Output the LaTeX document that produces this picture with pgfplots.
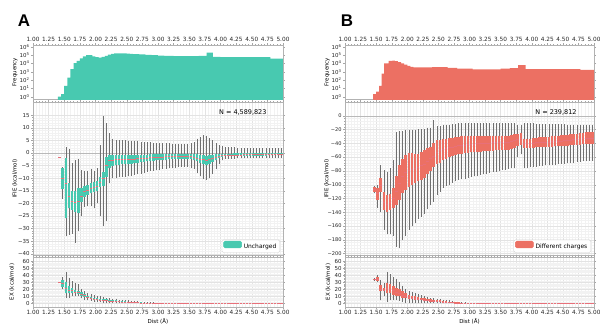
\documentclass[border=0pt]{standalone}
\usepackage{fontspec}
\setmainfont{DejaVu Sans}
\newfontfamily\lettersfont{Liberation Sans}
\usepackage{pgfplots}
\usepackage{pgfplotstable}
\pgfplotsset{compat=1.18}
\definecolor{tealc}{HTML}{48C9B0}
\definecolor{redc}{HTML}{EC7063}
\definecolor{medc}{HTML}{E8707A}
\definecolor{whc}{HTML}{707070}

\pgfplotstableread{
x lw q1 med q3 uw
1.425 -1.5 -1.5 -1.5 -1.5 -1.5
1.475 -18.3 -14.4 -10 -6 -5.5
1.525 -33 -26 -12 -2.1 2.5
1.575 -32.5 -22 -17 -12 1.5
1.625 -32 -22.5 -19 -15.3 -4
1.675 -35.6 -23.5 -19.5 -15 -3
1.725 -31 -24 -19 -14 -2.6
1.775 -25 -19.3 -17 -14 -6.7
1.825 -21.5 -17.4 -15.2 -13 -7
1.875 -21 -16.6 -14.6 -12.6 -7
1.925 -21 -16 -14 -12 -6.5
1.975 -22 -15.5 -13.5 -11.4 -7
2.025 -20 -15 -13 -11 -6
2.075 -25 -13.5 -11.5 -9.4 3
2.125 -29 -13 -10 -7.5 14.6
2.175 -27 -9.5 -5 -1.5 12
2.225 -12 -6 -3 -1 8
2.275 -10 -5 -2.7 -1 5.5
2.325 -9.8 -4.6 -2.6 -1 5.2
2.375 -9.7 -4.6 -2.6 -1 5.1
2.425 -9.6 -4.5 -2.5 -1 5.0
2.475 -9.5 -4.5 -2.5 -1 5.0
2.525 -9.3 -4.4 -2.4 -0.9 4.9
2.575 -9.1 -4.3 -2.4 -0.9 4.8
2.625 -8.8 -4.1 -2.3 -0.9 4.7
2.675 -8.5 -4.0 -2.2 -0.8 4.6
2.725 -8.2 -3.8 -2.1 -0.8 4.5
2.775 -7.8 -3.6 -2.0 -0.7 4.4
2.825 -7.5 -3.4 -1.9 -0.7 4.3
2.875 -7.2 -3.2 -1.8 -0.6 4.2
2.925 -7.0 -3.1 -1.7 -0.6 4.1
2.975 -6.8 -3.0 -1.6 -0.5 4.0
3.025 -6.6 -2.9 -1.5 -0.5 3.9
3.075 -6.4 -2.8 -1.5 -0.4 3.9
3.125 -6.2 -2.7 -1.4 -0.4 3.8
3.175 -6.0 -2.6 -1.4 -0.3 3.8
3.225 -5.9 -2.6 -1.3 -0.3 3.7
3.275 -5.8 -2.5 -1.3 -0.3 3.7
3.325 -5.6 -2.5 -1.3 -0.3 3.6
3.375 -5.5 -2.4 -1.3 -0.3 3.6
3.425 -5.4 -2.4 -1.3 -0.3 3.6
3.475 -5.5 -2.5 -1.3 -0.4 3.7
3.525 -5.8 -2.6 -1.4 -0.4 3.9
3.575 -6.5 -2.9 -1.6 -0.5 4.5
3.625 -7.8 -3.4 -1.9 -0.6 5.5
3.675 -9.3 -4.0 -2.3 -0.8 6.5
3.725 -10.5 -4.5 -2.6 -1.0 7.0
3.775 -10.8 -4.8 -2.8 -1.1 6.8
3.825 -10 -4.3 -2.5 -1.0 6.0
3.875 -8.5 -3.6 -2.1 -0.8 5.0
3.925 -6.5 -2.8 -1.6 -0.6 4.0
3.975 -4.5 -2.0 -1.2 -0.4 3.2
4.025 -3.0 -1.5 -0.9 -0.3 2.6
4.075 -2.5 -1.3 -0.8 -0.3 2.3
4.125 -2.4 -1.25 -0.75 -0.25 2.3
4.175 -2.3 -1.2 -0.7 -0.25 2.2
4.225 -2.3 -1.2 -0.7 -0.2 2.2
4.275 -2.2 -1.2 -0.7 -0.2 2.1
4.325 -2.2 -1.15 -0.7 -0.2 2.1
4.375 -2.2 -1.15 -0.65 -0.2 2.1
4.425 -2.2 -1.1 -0.65 -0.2 2.0
4.475 -2.1 -1.1 -0.65 -0.2 2.0
4.525 -2.1 -1.1 -0.6 -0.2 2.0
4.575 -2.1 -1.1 -0.6 -0.2 2.0
4.625 -2.1 -1.05 -0.6 -0.15 2.0
4.675 -2.0 -1.05 -0.6 -0.15 1.9
4.725 -2.0 -1.05 -0.6 -0.15 1.9
4.775 -2.0 -1.0 -0.6 -0.15 1.9
4.825 -2.0 -1.0 -0.55 -0.15 1.9
4.875 -2.0 -1.0 -0.55 -0.15 1.9
4.925 -2.0 -1.0 -0.55 -0.1 1.9
4.975 -2.0 -1.0 -0.55 -0.1 1.9
}\Aifie

\pgfplotstableread{
x lw q1 med q3 uw
1.425 30 30 30 30 30
1.475 20 23 28 33 38
1.525 7.5 14 22 31 45
1.575 8 14 19 24 36
1.625 10 15 18 22 31.6
1.675 10 14 16.5 19 29
1.725 10 13 15.5 18 27
1.775 7 11 13.5 16 21
1.825 5 9 11 13 18
1.875 4 7.5 9 11 15
1.925 3 6.5 7.5 9 13
1.975 2.5 5.5 6.5 8 11.5
2.025 2 5 6 7.5 11
2.075 1.5 4.2 5 6.5 10
2.125 1 3.5 4.5 6 9
2.175 0.8 3 4 5.5 8
2.225 0.5 2.5 3.5 5 7
2.275 0.2 2.2 3 4.5 6.5
2.325 0 2 2.8 4 6
2.375 0 1.7 2.4 3.4 5.3
2.425 0 1.5 2.1 3 5
2.475 0 1.2 1.8 2.6 4.3
2.525 0 1 1.6 2.4 4
2.575 0 0.9 1.4 2.1 3.5
2.625 0 0.7 1.2 1.9 3
2.675 0 0.6 1 1.6 2.7
2.725 0 0.5 0.8 1.4 2.4
2.775 0 0.4 0.6 1.1 2
2.825 0 0.3 0.5 0.9 1.8
2.875 0 0.2 0.4 0.7 1.5
2.925 0 0.15 0.3 0.6 1.2
2.975 0 0.1 0.2 0.4 1
3.025 0 0.05 0.1 0.3 0.7
3.075 0 0 0.1 0.2 0.5
3.125 0 0 0.05 0.1 0.3
3.175 0 0 0 0.05 0.2
3.225 0 0 0 0 0.1
3.275 0 0 0 0 0.1
3.325 0 0 0 0 0.1
3.375 0 0 0 0 0.1
3.425 0 0 0 0 0.1
3.475 0 0 0 0 0.1
3.525 0 0 0 0 0.1
3.575 0 0 0 0 0.1
3.625 0 0 0 0 0.1
3.675 0 0 0 0 0.1
3.725 0 0 0 0 0.1
3.775 0 0 0 0 0.1
3.825 0 0 0 0 0.1
3.875 0 0 0 0 0.1
3.925 0 0 0 0 0.1
3.975 0 0 0 0 0.1
4.025 0 0 0 0 0.1
4.075 0 0 0 0 0.1
4.125 0 0 0 0 0.1
4.175 0 0 0 0 0.1
4.225 0 0 0 0 0.1
4.275 0 0 0 0 0.1
4.325 0 0 0 0 0.1
4.375 0 0 0 0 0.1
4.425 0 0 0 0 0.1
4.475 0 0 0 0 0.1
4.525 0 0 0 0 0.1
4.575 0 0 0 0 0.1
4.625 0 0 0 0 0.1
4.675 0 0 0 0 0.1
4.725 0 0 0 0 0.1
4.775 0 0 0 0 0.1
4.825 0 0 0 0 0.1
4.875 0 0 0 0 0.1
4.925 0 0 0 0 0.1
4.975 0 0 0 0 0.1
}\Aex

\pgfplotstableread{
x lw q1 med q3 uw
1.475 -112 -110 -107 -104 -102
1.525 -134 -122 -113 -105 -100
1.575 -139 -110 -100 -90 -71
1.625 -166 -137 -125 -110 -79
1.675 -172 -139 -128 -115 -81
1.725 -172 -137 -126 -113 -76
1.775 -174 -134 -120 -105 -64
1.825 -190 -129 -110 -88 -23
1.875 -192 -122 -98 -71 -22
1.925 -180 -112 -88 -62 -22
1.975 -175 -108 -82 -57 -21
2.025 -166 -103 -79 -54.5 -21
2.075 -160 -100 -77 -54.5 -20
2.125 -155 -98 -76 -55 -20
2.175 -150 -95 -75 -55 -19
2.225 -147 -93 -72 -52 -19
2.275 -142 -90 -70 -50 -19
2.325 -135 -85 -66 -47 -18
2.375 -130 -80 -62 -45 -17
2.425 -125 -75 -58 -40 -6
2.475 -115 -70 -53 -35 -15
2.525 -110 -68 -50 -35 -15
2.575 -105 -64 -48 -34 -14
2.625 -102 -62 -47 -33 -13
2.675 -100 -60 -46 -32.5 -13
2.725 -97 -58 -45 -32 -12
2.775 -95 -57 -44 -31 -12
2.825 -93 -56 -43 -30.5 -11
2.875 -92 -55 -42 -30 -11
2.925 -91 -54.5 -42 -30 -11
2.975 -90 -54 -41 -30 -11
3.025 -89 -53 -41 -30 -11
3.075 -88 -53 -40.5 -30 -11
3.125 -87 -52 -40 -30 -11
3.175 -86 -52 -40 -30 -11
3.225 -85 -51.5 -40 -30 -11
3.275 -84 -51 -40 -30 -11
3.325 -83 -51 -39.5 -30 -11
3.375 -82 -50.5 -39 -29.5 -11
3.425 -81 -50 -39 -29.5 -11
3.475 -80 -50 -39 -29.5 -11
3.525 -79 -50 -39 -29.5 -11
3.575 -78 -49.7 -39 -29.4 -11
3.625 -77 -49 -38 -29 -11
3.675 -76 -48 -37 -28 -11
3.725 -76 -47 -36 -27 -11
3.775 -60 -44 -34 -26 -13
3.825 -55 -42.5 -33 -25.5 -14
3.875 -76 -47 -40 -33 -11
3.925 -76 -47 -40 -33 -11
3.975 -75 -47 -40 -33 -11
4.025 -75 -46.5 -39.5 -32 -11
4.075 -74 -46 -39 -32 -11.5
4.125 -73 -46 -39 -31.5 -11.5
4.175 -73 -45.5 -38.5 -31 -12
4.225 -72 -45.5 -38 -31 -12
4.275 -72 -45 -38 -30.5 -12
4.325 -71 -45 -37.5 -30 -12
4.375 -71 -44.5 -37 -29.5 -12
4.425 -70 -44.5 -37 -29 -12.5
4.475 -70 -44 -36.5 -28.5 -12.5
4.525 -70 -44 -36 -28 -12.5
4.575 -69 -43.5 -35.5 -27.5 -13
4.625 -68 -43 -35 -27 -13
4.675 -68 -42.5 -34.5 -26.5 -13
4.725 -67 -42 -34 -26 -13
4.775 -67 -42 -33.5 -25 -13
4.825 -66 -41.5 -33 -24.5 -13
4.875 -66 -41 -32.5 -24 -13
4.925 -65 -40.5 -32 -23.5 -13
4.975 -65 -40.5 -32 -23.5 -13
}\Bifie

\pgfplotstableread{
x lw q1 med q3 uw
1.475 32 33 34 35 36
1.525 30 32 35 37 41
1.575 4 17 20 26 33
1.625 10 17 19 22 29
1.675 2 14 22 29 44
1.725 5 14 20 27 42
1.775 5 12 18 25 38
1.825 5 11 16 22 34
1.875 3 10 14 20 30
1.925 2 8 12 17 25
1.975 1 7 10 14 20
2.025 1 6 8.5 12 17
2.075 0.5 5.5 7.5 11 15.5
2.125 0.5 5 7 10 14
2.175 0 4.5 6 9 13
2.225 0 4 5.5 8 12
2.275 0 3.5 5 7 10
2.325 0 3 4.5 6 9
2.375 0 2.5 4 5.5 8
2.425 0 2 3.5 5 7
2.475 0 1.7 3 4.5 6.5
2.525 0 1.5 2.5 4 6
2.575 0 1.2 2 3.5 5
2.625 0 1 1.7 3 4.5
2.675 0 0.8 1.4 2.5 4
2.725 0 0.5 1 2 3
2.775 0 0.4 0.8 1.6 2.5
2.825 0 0.3 0.6 1.2 2
2.875 0 0.2 0.4 0.9 1.6
2.925 0 0.1 0.3 0.7 1.2
2.975 0 0.05 0.2 0.4 1
3.025 0 0 0.1 0.3 0.7
3.075 0 0 0.1 0.2 0.5
3.125 0 0 0 0.1 0.3
3.175 0 0 0 0 0.1
3.225 0 0 0 0 0.1
3.275 0 0 0 0 0.1
3.325 0 0 0 0 0.1
3.375 0 0 0 0 0.1
3.425 0 0 0 0 0.1
3.475 0 0 0 0 0.1
3.525 0 0 0 0 0.1
3.575 0 0 0 0 0.1
3.625 0 0 0 0 0.1
3.675 0 0 0 0 0.1
3.725 0 0 0 0 0.1
3.775 0 0 0 0 0.1
3.825 0 0 0 0 0.1
3.875 0 0 0 0 0.1
3.925 0 0 0 0 0.1
3.975 0 0 0 0 0.1
4.025 0 0 0 0 0.1
4.075 0 0 0 0 0.1
4.125 0 0 0 0 0.1
4.175 0 0 0 0 0.1
4.225 0 0 0 0 0.1
4.275 0 0 0 0 0.1
4.325 0 0 0 0 0.1
4.375 0 0 0 0 0.1
4.425 0 0 0 0 0.1
4.475 0 0 0 0 0.1
4.525 0 0 0 0 0.1
4.575 0 0 0 0 0.1
4.625 0 0 0 0 0.1
4.675 0 0 0 0 0.1
4.725 0 0 0 0 0.1
4.775 0 0 0 0 0.1
4.825 0 0 0 0 0.1
4.875 0 0 0 0 0.1
4.925 0 0 0 0 0.1
4.975 0 0 0 0 0.1
}\Bex

\pgfplotsset{
  common/.style={
    scale only axis, anchor=north west, xmin=1, xmax=5,
    tick label style={font=\fontsize{5.5}{6}\selectfont, text=black!85},
    xticklabel style={font=\fontsize{5.8}{6}\selectfont},
    label style={font=\fontsize{5.5}{6}\selectfont},
    tick align=outside, major tick length=2bp, minor tick length=1bp,
    axis line style={gray!60, line width=0.4bp},
    tick style={gray!70, line width=0.3bp},
    xtick={1,1.25,1.5,1.75,2,2.25,2.5,2.75,3,3.25,3.5,3.75,4,4.25,4.5,4.75,5},
    minor x tick num=4,
    xticklabel style={/pgf/number format/fixed, /pgf/number format/fixed zerofill, /pgf/number format/precision=2, /pgf/number format/assume math mode=true, inner ysep=1.5bp},
    yticklabel style={/pgf/number format/assume math mode=true, inner xsep=1.2bp},
  },
  histax/.style={common, height=54bp, ymin=0.53, ymax=1.6e6,
    ytick={1,10,100,1000,10000,100000,1000000},
    yticklabels={10\textsuperscript{0},10\textsuperscript{1},10\textsuperscript{2},10\textsuperscript{3},10\textsuperscript{4},10\textsuperscript{5},10\textsuperscript{6}},
    yminorticks=false, xticklabel pos=upper, ylabel={Frequency},
    ylabel style={at={(axis description cs:-0.072,0.5)}, anchor=center}},
  boxax/.style={common, grid=both, major grid style={gray!22, line width=0.3bp},
    minor grid style={gray!10, line width=0.2bp}, minor y tick num=4},
  exax/.style={boxax, height=50bp, ymin=-5.3, ymax=66, ytick={0,10,20,30,40,50,60},
    ylabel={EX (kcal/mol)}, xlabel={Dist (Å)},
    xlabel style={at={(axis description cs:0.5,-0.215)}, anchor=north, inner sep=0pt}},
  whisk/.style={forget plot, draw=none, mark=none, error bars/y dir=plus, error bars/y explicit,
    error bars/error mark=none, error bars/error bar style={draw=whc, line width=0.6bp}},
  boxs/.style={forget plot, draw=none, mark=none, error bars/y dir=plus, error bars/y explicit,
    error bars/error mark=none, error bars/error bar style={draw=#1, line width=2.6bp, line cap=butt}},
  meds/.style={forget plot, only marks, mark=-, mark size=1.3bp, mark options={draw=medc, line width=0.35bp}},
}

\begin{document}
\begin{tikzpicture}
\useasboundingbox (0,0) rectangle (600bp,-325bp);
\node[font=\lettersfont\bfseries\fontsize{17}{17}\selectfont] at (24bp,-21bp) {A};
\node[font=\lettersfont\bfseries\fontsize{17}{17}\selectfont] at (347bp,-21bp) {B};

% ---------------- Panel A ----------------
\begin{semilogyaxis}[histax, at={(33bp,-45bp)}, width=250bp]
\addplot[fill=tealc, draw=none, const plot mark left] coordinates {
(1.40,0.4) (1.40,1) (1.45,2) (1.50,20) (1.55,200) (1.60,2000) (1.65,1.1e4) (1.70,2e4)
(1.75,4e4) (1.80,7e4) (1.85,1e5) (1.90,9.5e4) (1.95,7e4) (2.00,5.5e4) (2.05,5e4)
(2.10,6e4) (2.15,8e4) (2.20,1.1e5) (2.25,1.4e5) (2.30,1.55e5) (2.35,1.6e5) (2.40,1.6e5)
(2.45,1.55e5) (2.50,1.5e5) (2.55,1.4e5) (2.60,1.3e5) (2.70,1.2e5) (2.80,1.05e5)
(2.90,9.5e4) (3.00,8.5e4) (3.10,8e4) (3.25,7.5e4) (3.40,7.5e4) (3.55,7.5e4) (3.65,8e4)
(3.78,1.9e5) (3.88,6e4) (4.00,5.5e4) (4.20,5.5e4) (4.40,5.5e4) (4.60,5.5e4) (4.80,3.6e4)
(5.00,3.6e4) (5.00,0.4)};
\end{semilogyaxis}

\begin{axis}[boxax, at={(33bp,-102bp)}, width=250bp, height=153bp,
  ymin=-40.5, ymax=20.2, xticklabels={},
  ytick={-40,-35,-30,-25,-20,-15,-10,-5,0,5,10,15},
  yticklabels={−40,−35,−30,−25,−20,−15,−10,−5,0,5,10,15},
  ylabel={IFIE (kcal/mol)}, ylabel style={at={(axis description cs:-0.072,0.5)}, anchor=center},
  legend style={at={(0.988,0.015)}, anchor=south east, draw=gray!35, rounded corners=1.5pt,
    font=\fontsize{6}{7}\selectfont, inner xsep=1.5pt, inner ysep=1pt}]
\addlegendimage{legend image code/.code={\fill[tealc] (0,-0.15em) rectangle (1.8em,0.55em);}}
\addlegendentry{Uncharged}
\addplot[forget plot, gray!55, line width=0.5bp] coordinates {(1,0) (5,0)};
\addplot[whisk] table[x=x, y=lw, y error plus expr=\thisrow{uw}-\thisrow{lw}] {\Aifie};
\addplot[boxs=tealc] table[x=x, y=q1, y error plus expr=\thisrow{q3}-\thisrow{q1}] {\Aifie};
\addplot[meds] table[x=x, y=med] {\Aifie};
\node[anchor=east, font=\fontsize{6.5}{7}\selectfont] at (rel axis cs:0.948,0.931) {N = 4,589,823};
\end{axis}

\begin{axis}[exax, at={(33bp,-257bp)}, width=250bp,
  ylabel style={at={(axis description cs:-0.084,0.5)}, anchor=center}]
\addplot[whisk] table[x=x, y=lw, y error plus expr=\thisrow{uw}-\thisrow{lw}] {\Aex};
\addplot[boxs=tealc] table[x=x, y=q1, y error plus expr=\thisrow{q3}-\thisrow{q1}] {\Aex};
\addplot[meds] table[x=x, y=med] {\Aex};
\end{axis}

% ---------------- Panel B ----------------
\begin{semilogyaxis}[histax, at={(345bp,-45bp)}, width=249bp]
\addplot[fill=redc, draw=none, const plot mark left] coordinates {
(1.45,0.4) (1.45,2) (1.50,4) (1.55,20) (1.59,600) (1.63,1e4) (1.70,2e4) (1.76,2.1e4)
(1.80,1.8e4) (1.85,1.4e4) (1.90,1e4) (1.95,7000) (2.00,5000) (2.05,3800) (2.10,3300)
(2.40,3600) (2.65,2900) (2.80,2300) (3.05,1900) (3.50,2300) (3.65,2600) (3.78,6000)
(3.90,2000) (4.78,1700) (5.00,1700) (5.00,0.4)};
\end{semilogyaxis}

\begin{axis}[boxax, at={(345bp,-102bp)}, width=249bp, height=153bp,
  ymin=-202, ymax=20, xticklabels={},
  ytick={-200,-180,-160,-140,-120,-100,-80,-60,-40,-20,0},
  yticklabels={−200,−180,−160,−140,−120,−100,−80,−60,−40,−20,0},
  yticklabel style={font=\fontsize{5.1}{6}\selectfont},
  ylabel={IFIE (kcal/mol)}, ylabel style={at={(axis description cs:-0.074,0.5)}, anchor=center},
  legend style={at={(0.988,0.015)}, anchor=south east, draw=gray!35, rounded corners=1.5pt,
    font=\fontsize{6}{7}\selectfont, inner xsep=1.5pt, inner ysep=1pt}]
\addlegendimage{legend image code/.code={\fill[redc] (0,-0.15em) rectangle (1.8em,0.55em);}}
\addlegendentry{Different charges}
\addplot[forget plot, gray!55, line width=0.5bp] coordinates {(1,0) (5,0)};
\addplot[whisk] table[x=x, y=lw, y error plus expr=\thisrow{uw}-\thisrow{lw}] {\Bifie};
\addplot[boxs=redc] table[x=x, y=q1, y error plus expr=\thisrow{q3}-\thisrow{q1}] {\Bifie};
\addplot[meds] table[x=x, y=med] {\Bifie};
\node[anchor=east, font=\fontsize{6.5}{7}\selectfont] at (rel axis cs:0.944,0.931) {N = 239,812};
\end{axis}

\begin{axis}[exax, at={(345bp,-257bp)}, width=249bp,
  ylabel style={at={(axis description cs:-0.068,0.5)}, anchor=center}]
\addplot[whisk] table[x=x, y=lw, y error plus expr=\thisrow{uw}-\thisrow{lw}] {\Bex};
\addplot[boxs=redc] table[x=x, y=q1, y error plus expr=\thisrow{q3}-\thisrow{q1}] {\Bex};
\addplot[meds] table[x=x, y=med] {\Bex};
\end{axis}
\end{tikzpicture}
\end{document}
